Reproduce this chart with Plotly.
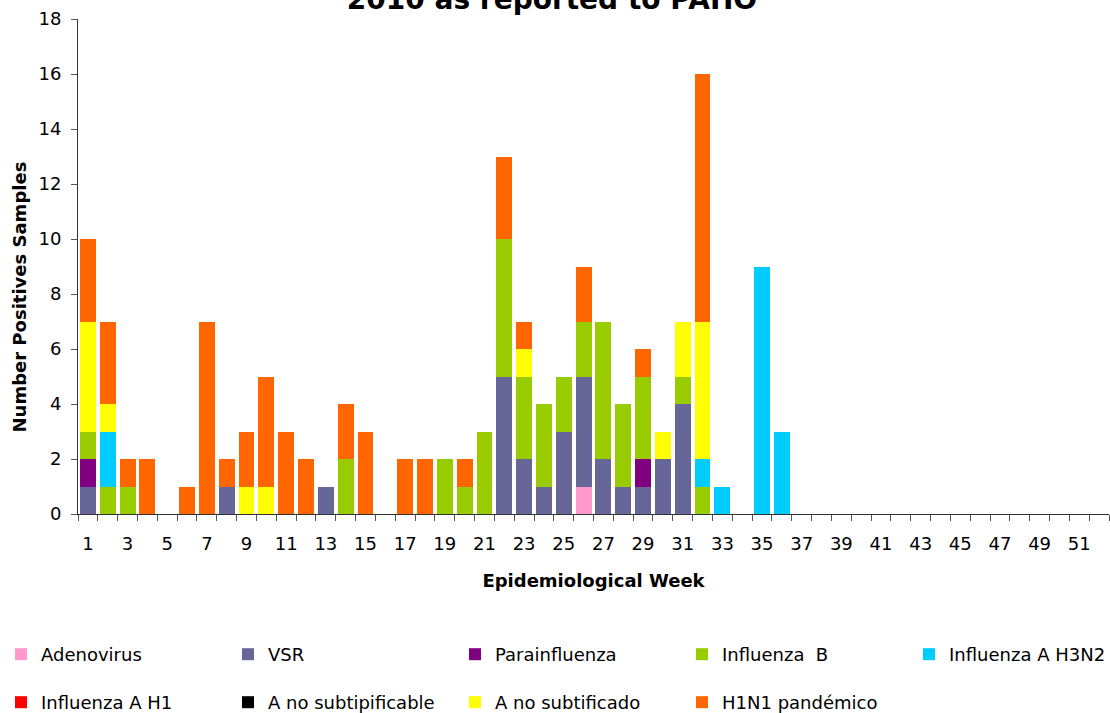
import plotly.graph_objects as go

weeks = list(range(1, 53))

adenovirus = [0,0,0,0,0,0,0,0,0,0, 0,0,0,0,0,0,0,0,0,0, 0,0,0,0,0,1,0,0,0,0, 0,0,0,0,0,0,0,0,0,0, 0,0,0,0,0,0,0,0,0,0, 0,0]
vsr        = [1,0,0,0,0,0,0,1,0,0, 0,0,1,0,0,0,0,0,0,0, 0,5,2,1,3,4,2,1,1,2, 4,0,0,0,0,0,0,0,0,0, 0,0,0,0,0,0,0,0,0,0, 0,0]
parainfl   = [1,0,0,0,0,0,0,0,0,0, 0,0,0,0,0,0,0,0,0,0, 0,0,0,0,0,0,0,0,1,0, 0,0,0,0,0,0,0,0,0,0, 0,0,0,0,0,0,0,0,0,0, 0,0]
flu_b      = [1,1,1,0,0,0,0,0,0,0, 0,0,0,2,0,0,0,0,2,1, 3,5,3,3,2,2,5,3,3,0, 1,1,0,0,0,0,0,0,0,0, 0,0,0,0,0,0,0,0,0,0, 0,0]
flu_h3n2   = [0,2,0,0,0,0,0,0,0,0, 0,0,0,0,0,0,0,0,0,0, 0,0,0,0,0,0,0,0,0,0, 0,1,1,0,9,3,0,0,0,0, 0,0,0,0,0,0,0,0,0,0, 0,0]
flu_h1     = [0,0,0,0,0,0,0,0,0,0, 0,0,0,0,0,0,0,0,0,0, 0,0,0,0,0,0,0,0,0,0, 0,0,0,0,0,0,0,0,0,0, 0,0,0,0,0,0,0,0,0,0, 0,0]
a_no_subtipificable = [0,0,0,0,0,0,0,0,0,0, 0,0,0,0,0,0,0,0,0,0, 0,0,0,0,0,0,0,0,0,0, 0,0,0,0,0,0,0,0,0,0, 0,0,0,0,0,0,0,0,0,0, 0,0]
a_no_subtificado    = [4,1,0,0,0,0,0,0,1,1, 0,0,0,0,0,0,0,0,0,0, 0,0,1,0,0,0,0,0,0,1, 2,5,0,0,0,0,0,0,0,0, 0,0,0,0,0,0,0,0,0,0, 0,0]
h1n1_pandemico      = [3,3,1,2,0,1,7,1,2,4, 3,2,0,2,3,0,2,2,0,1, 0,3,1,0,0,2,0,0,1,0, 0,9,0,0,0,0,0,0,0,0, 0,0,0,0,0,0,0,0,0,0, 0,0]

series_names = ["Adenovirus", "VSR", "Parainfluenza", "Influenza  B", "Influenza A H3N2",
                "Influenza A H1", "A no subtipificable", "A no subtificado", "H1N1 pandémico"]
series_values = [adenovirus, vsr, parainfl, flu_b, flu_h3n2, flu_h1,
                 a_no_subtipificable, a_no_subtificado, h1n1_pandemico]
series_colors = ["#FF99CC", "#666699", "#800080", "#99CC00", "#00CCFF",
                 "#FF0000", "#000000", "#FFFF00", "#FF6600"]
legend_ids = ["legend", "legend", "legend", "legend", "legend3",
              "legend2", "legend2", "legend2", "legend2"]

x_tick_labels = [str(w) for w in range(1, 53, 2)]
x_tick_vals = list(range(1, 53, 2))

FONT = "DejaVu Sans"

fig = go.Figure()
for name, vals, col, lg in zip(series_names, series_values, series_colors, legend_ids):
    fig.add_trace(go.Bar(x=weeks, y=vals, name=name, marker=dict(color=col, line=dict(width=0)),
                         legend=lg))

W, H = 1110, 713
ML, MR, MT, MB = 78, 1, 19, 199

leg_common = dict(orientation="h", xref="container", yref="container",
                  xanchor="left", yanchor="top", entrywidth=182, entrywidthmode="pixels",
                  font=dict(family=FONT, size=18, color="#000000"), bgcolor="rgba(0,0,0,0)",
                  traceorder="normal", borderwidth=0)

fig.update_layout(
    width=W, height=H,
    margin=dict(l=ML, r=MR, t=MT, b=MB, pad=0),
    paper_bgcolor="white", plot_bgcolor="white",
    barmode="stack", bargap=0.2,
    font=dict(family=FONT, size=18, color="#000000"),
    title=dict(text="2010 as reported to PAHO", xref="container", yref="container",
               x=552 / W, xanchor="center", y=1 - 9 / H, yanchor="bottom",
               font=dict(family=FONT, size=28, weight="bold", color="#000000")),
    legend=dict(leg_common, x=1 / W, y=1 - 636 / H),
    legend2=dict(leg_common, x=1 / W, y=1 - 684 / H),
    legend3=dict(leg_common, x=(1 + 4 * 227) / W, y=1 - 636 / H, entrywidth=0),
    xaxis=dict(range=[0.5, 52.5], tickmode="array", tickvals=x_tick_vals, ticktext=x_tick_labels,
               ticks="", showgrid=False, zeroline=False, showline=True, linecolor="#333333",
               linewidth=1, tickfont=dict(family=FONT, size=18, color="#000000"),
               ticklabelstandoff=13,
               minor=dict(ticks="outside", tick0=0.5, dtick=1, ticklen=6, tickwidth=1,
                          tickcolor="#555555", showgrid=False),
               title=dict(text="Epidemiological Week", standoff=21,
                          font=dict(family=FONT, size=18, weight="bold", color="#000000"))),
    yaxis=dict(range=[0, 18], dtick=2, tick0=0, ticks="outside", ticklen=6, tickwidth=1,
               tickcolor="#555555", showgrid=False, zeroline=False, showline=True,
               linecolor="#333333", linewidth=1, ticklabelstandoff=6,
               tickfont=dict(family=FONT, size=18, color="#000000")),
    annotations=[dict(text="Number Positives Samples", textangle=-90, showarrow=False,
                      xref="paper", yref="paper", x=(19 - ML) / (W - ML - MR),
                      y=(H - MB - 297.5) / (H - MT - MB), xanchor="center", yanchor="middle",
                      font=dict(family=FONT, size=18, weight="bold", color="#000000"))],
)

fig.write_html("out.html", config={"displayModeBar": False},
               post_script="document.body.style.margin='0';")
